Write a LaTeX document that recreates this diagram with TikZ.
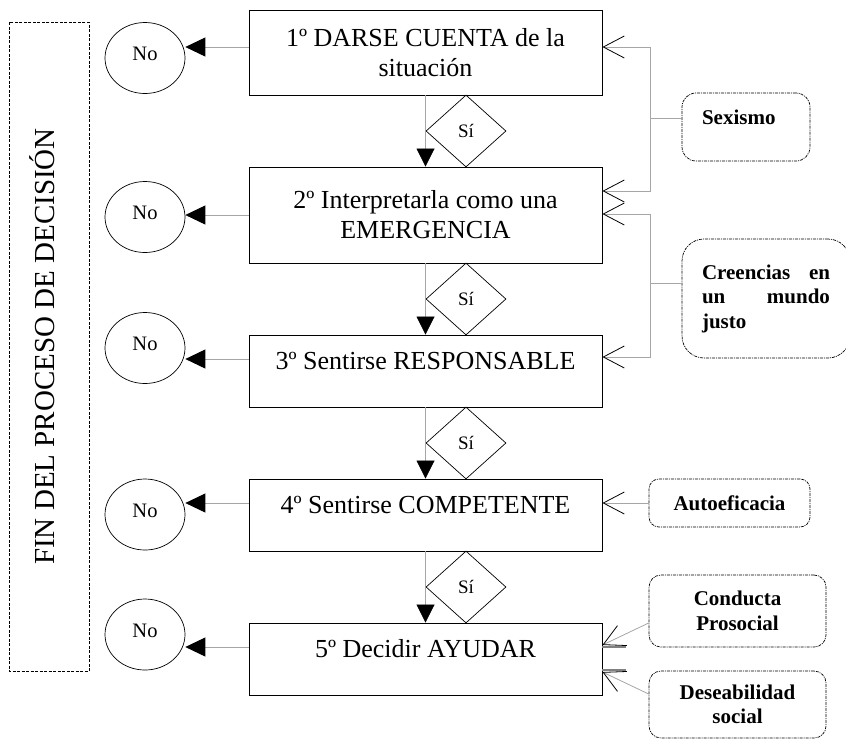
\documentclass[tikz,border=0pt]{standalone}
\usepackage{fontspec}
\setmainfont{Liberation Serif}
\usetikzlibrary{shapes.geometric,arrows.meta,positioning}
\tikzset{stepbox/.style={
  shape=rectangle,
  draw=black,
  line width=0.9pt,
  minimum width=353pt,
  align=center,
  font=\fontsize{26}{30}\selectfont,
  },
  oneline/.style={
  minimum height=72pt,
  text height=18pt,
  text depth=21pt,
  },
  sidiamond/.style={
  shape=diamond,
  draw=black,
  line width=0.7pt,
  minimum width=80pt,
  minimum height=72pt,
  inner sep=0pt,
  font=\fontsize{19}{21}\selectfont,
  },
  nocircle/.style={
  shape=ellipse,
  draw=black,
  line width=0.7pt,
  minimum width=80pt,
  minimum height=71pt,
  inner sep=0pt,
  text height=13pt,
  text depth=8pt,
  font=\fontsize{20.5}{22}\selectfont,
  },
  finbox/.style={
  shape=rectangle,
  draw=black,
  line width=0.7pt,
  dash pattern=on 3pt off 1.5pt,
  rotate=90,
  minimum width=649pt,
  minimum height=80pt,
  inner sep=0pt,
  text height=22pt,
  text depth=11pt,
  font=\fontsize{29}{32}\selectfont,
  },
  factorbox/.style={
  shape=rectangle,
  draw=black,
  line width=0.7pt,
  dash pattern=on 3pt off 1pt on 1pt off 1pt,
  rounded corners=12pt,
  align=center,
  font=\fontsize{21}{24.5}\selectfont\bfseries,
  },
  flowline/.style={
  draw=gray!70,
  line width=0.8pt,
  },
  yesarrow/.style={flowline, -{Triangle[length=18pt,width=18pt,black]}},
  noarrow/.style={flowline, -{Triangle[length=20pt,width=19pt,black]}},
  feedarrow/.style={flowline, -{Straight Barb[length=21pt,width=22pt,black,line width=0.8pt]}},
  stub/.style={draw=gray, line width=1.5pt},
}

\begin{document}
\begin{tikzpicture}[x=1pt,y=-1pt]
  \useasboundingbox (0,0) rectangle (846,740);

  % steps of the decision
  \node[stepbox, minimum height=85pt] (s1) at (425.5,52.5) {1º DARSE CUENTA de la\\situación};
  \node[stepbox, minimum height=96pt] (s2) at (425.5,215) {2º Interpretarla como una\\EMERGENCIA};
  \node[stepbox, oneline] (s3) at (425.5,371) {3º Sentirse RESPONSABLE};
  \node[stepbox, oneline] (s4) at (425.5,515) {4º Sentirse COMPETENTE};
  \node[stepbox, oneline] (s5) at (425.5,659) {5º Decidir AYUDAR};

  \node[sidiamond] (d1) at (466,131) {Sí};
  \node[sidiamond] (d2) at (466,299) {Sí};
  \node[sidiamond] (d3) at (466,443) {Sí};
  \node[sidiamond] (d4) at (466,587) {Sí};

  \node[nocircle] (n1) at (145,58) {No};
  \node[nocircle] (n2) at (145,217) {No};
  \node[nocircle] (n3) at (145,348) {No};
  \node[nocircle] (n4) at (145,514.5) {No};
  \node[nocircle] (n5) at (145,634.5) {No};

  \node[finbox] (fin) at (49,346.5) {FIN DEL PROCESO DE DECISIÓN};

  % factors
  \node[factorbox, minimum width=128pt, minimum height=68pt, rounded corners=14pt,
        text width=88pt, align=left, text height=14pt, text depth=20pt] (x1) at (746,127) {Sexismo};
  \node[factorbox, minimum width=168pt, minimum height=119pt, rounded corners=22pt,
        text width=128pt, align=left] (x2) at (766,298.5) {Creencias\hfill en\\un\hfill mundo\\justo};
  \node[factorbox, minimum width=161pt, minimum height=48pt, rounded corners=10pt] (x3) at (729.5,503) {Autoeficacia};
  \node[factorbox, minimum width=177pt, minimum height=72pt] (x4) at (737.5,611) {Conducta\\Prosocial};
  \node[factorbox, minimum width=177pt, minimum height=67pt] (x5) at (737.5,704.5) {Deseabilidad\\social};

  % yes
  \draw[yesarrow] (s1) -- (s2);
  \draw[yesarrow] (s2) -- (s3);
  \draw[yesarrow] (s3) -- (s4);
  \draw[yesarrow] (s4) -- (s5);

  % no
  \coordinate (o1) at ([yshift=5.5pt]s1.west);
  \coordinate (o2) at (s2.west);
  \coordinate (o3) at ([yshift=12pt]s3.west);
  \coordinate (o4) at ([yshift=12pt]s4.west);
  \coordinate (o5) at ([yshift=12pt]s5.west);
  \foreach \i in {1,...,5}
    \draw[noarrow] (o\i) -- (n\i.east |- o\i);

  % factors into the steps
  \coordinate (j1) at (650,118);
  \draw[flowline] (x1.west |- j1) -- (j1);
  \draw[feedarrow] (j1) |- ([yshift=5.5pt]s1.east);
  \draw[feedarrow] (j1) |- ([yshift=24pt]s2.east);

  \coordinate (j2) at (650,283);
  \draw[flowline] (x2.west |- j2) -- (j2);
  \draw[feedarrow] (j2) |- ([yshift=1pt]s2.east);
  \draw[feedarrow] (j2) |- ([yshift=14pt]s3.east);

  \draw[feedarrow] (x3.west) -- ([yshift=12pt]s4.east);
  \draw[feedarrow] ([yshift=-12pt]x4.west) -- ([yshift=14pt]s5.east);
  \draw[feedarrow] ([yshift=10.5pt]x5.west) -- ([yshift=-13pt]s5.east);
  \draw[stub] ([yshift=12pt]s5.east) -- ++(24,0);
  \draw[stub] ([yshift=-11pt]s5.east) -- ++(24,0);
\end{tikzpicture}
\end{document}
